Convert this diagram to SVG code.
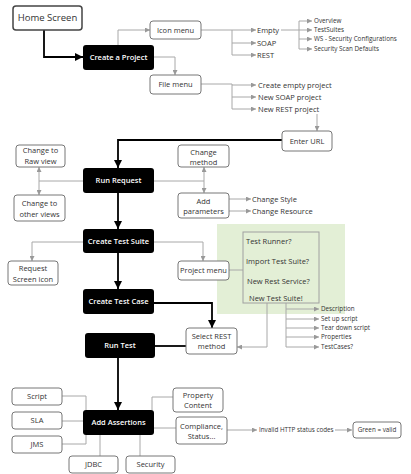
<svg xmlns="http://www.w3.org/2000/svg" width="411" height="474" viewBox="0 0 411 474">
<defs>
<marker id="ga" markerUnits="userSpaceOnUse" markerWidth="5" markerHeight="5" refX="5" refY="2.5" orient="auto-start-reverse"><path d="M0,0 L5,2.5 L0,5 z" fill="#999"/></marker>
<marker id="ba" markerUnits="userSpaceOnUse" markerWidth="8" markerHeight="8" refX="8" refY="4" orient="auto"><path d="M0,0 L8,4 L0,8 z" fill="#000"/></marker>
<style>
text{font-family:"Open Sans","DejaVu Sans",sans-serif;font-size:7.5px;fill:#333}
.c{text-anchor:middle}
.w{fill:#fff;font-weight:600}
.s{font-size:6.3px}
.box{fill:#fff;stroke:#777;stroke-width:1}
.blk{fill:#000;stroke:none}
.g{fill:none;stroke:#a8a8a8;stroke-width:1}
.b{fill:none;stroke:#000;stroke-width:1.8}
</style>
</defs>
<rect x="0" y="0" width="411" height="474" fill="#fff"/>
<rect id="green-area" x="217" y="224" width="128" height="90" fill="#e3efd6"/>

<g id="connectors">
<path class="b" d="M44,30 V57 H83" marker-end="url(#ba)"/>
<path class="b" d="M282,140 H118 V168" stroke="#222" marker-end="url(#ba)"/>
<path class="b" d="M118,193 V229" marker-end="url(#ba)"/>
<path class="b" d="M118,253 V289" marker-end="url(#ba)"/>
<path class="b" d="M154,303 H212 V328" marker-end="url(#ba)"/>
<path class="b" d="M186,346 H155" stroke-width="1.3"/>
<path class="b" d="M118,358 V410" marker-end="url(#ba)"/>

<path class="g" d="M118,45 V30 H150" marker-end="url(#ga)"/>
<path class="g" d="M154,57 H175 V75" marker-end="url(#ga)"/>
<path class="g" d="M201,30 H232 V55"/>
<path class="g" d="M232,30 H256" marker-end="url(#ga)"/>
<path class="g" d="M232,43 H256" marker-end="url(#ga)"/>
<path class="g" d="M232,55 H256" marker-end="url(#ga)"/>
<path class="g" d="M281,30 H299"/>
<path class="g" d="M299,21 V49"/>
<path class="g" d="M299,21 H312" marker-end="url(#ga)"/>
<path class="g" d="M299,30 H312" marker-end="url(#ga)"/>
<path class="g" d="M299,39 H312" marker-end="url(#ga)"/>
<path class="g" d="M299,49 H312" marker-end="url(#ga)"/>
<path class="g" d="M201,84 H232 V109"/>
<path class="g" d="M232,85 H256" marker-end="url(#ga)"/>
<path class="g" d="M232,97 H256" marker-end="url(#ga)"/>
<path class="g" d="M232,109 H256" marker-end="url(#ga)"/>
<path class="g" d="M317,114 V131" marker-end="url(#ga)"/>
<path class="g" d="M83,181 H39"/>
<path class="g" d="M39,167 V195" marker-start="url(#ga)" marker-end="url(#ga)"/>
<path class="g" d="M154,181 H204"/>
<path class="g" d="M204,167 V193" marker-start="url(#ga)" marker-end="url(#ga)"/>
<path class="g" d="M229,199 H251" marker-end="url(#ga)"/>
<path class="g" d="M229,211 H251" marker-end="url(#ga)"/>
<path class="g" d="M83,242 H32 V261" marker-end="url(#ga)"/>
<path class="g" d="M154,242 H203 V261" marker-end="url(#ga)"/>
<path class="g" d="M229,270 H243"/>
<path class="g" d="M267,303 V347 H237" marker-end="url(#ga)"/>
<path class="g" d="M286,303 V347"/>
<path class="g" d="M286,309 H319" marker-end="url(#ga)"/>
<path class="g" d="M286,319 H319" marker-end="url(#ga)"/>
<path class="g" d="M286,328 H319" marker-end="url(#ga)"/>
<path class="g" d="M286,337 H319" marker-end="url(#ga)"/>
<path class="g" d="M286,347 H319" marker-end="url(#ga)"/>
<path class="g" d="M62,396 H86 V410"/>
<path class="g" d="M62,421 H83"/>
<path class="g" d="M62,444 H86 V435"/>
<path class="g" d="M100,435 V456"/>
<path class="g" d="M140,435 V456"/>
<path class="g" d="M152,410 V397 H173"/>
<path class="g" d="M154,428 H176"/>
<path class="g" d="M227,430 H257" marker-end="url(#ga)"/>
<path class="g" d="M335,430 H352" marker-end="url(#ga)"/>
</g>

<g id="home-screen"><rect x="13" y="6" width="69" height="24" rx="3" fill="#fff" stroke="#444" stroke-width="1.5"/><text class="c" x="47.5" y="21.3" style="font-size:9.5px">Home Screen</text></g>
<g id="create-project"><rect class="blk" x="83" y="45" width="71" height="25" rx="3"/><text class="c w" x="118.5" y="60.2">Create a Project</text></g>
<g id="icon-menu"><rect class="box" x="150" y="21" width="51" height="18" rx="3"/><text class="c" x="175.5" y="32.6">Icon menu</text></g>
<g id="file-menu"><rect class="box" x="150" y="75" width="51" height="19" rx="3"/><text class="c" x="175.5" y="87.1">File menu</text></g>
<g id="icon-items"><text x="257" y="32.6">Empty</text><text x="257" y="45.6">SOAP</text><text x="257" y="57.6">REST</text></g>
<g id="empty-items"><text class="s" x="314" y="23.2">Overview</text><text class="s" x="314" y="32.2">TestSuites</text><text class="s" x="314" y="41.2">WS - Security Configurations</text><text class="s" x="314" y="51.2">Security Scan Defaults</text></g>
<g id="file-items"><text x="258" y="87.6">Create empty project</text><text x="258" y="99.6">New SOAP project</text><text x="258" y="111.6">New REST project</text></g>
<g id="enter-url"><rect class="box" x="282" y="131" width="50" height="20" rx="3"/><text class="c" x="307" y="143.6">Enter URL</text></g>
<g id="run-request"><rect class="blk" x="83" y="168" width="71" height="25" rx="3"/><text class="c w" x="118.5" y="183.2">Run Request</text></g>
<g id="raw-view"><rect class="box" x="16" y="145" width="49" height="22" rx="3"/><text class="c" x="40.5" y="153.3">Change to</text><text class="c" x="40.5" y="164.3">Raw view</text></g>
<g id="other-views"><rect class="box" x="14" y="195" width="51" height="26" rx="3"/><text class="c" x="39.5" y="205.6">Change to</text><text class="c" x="39.5" y="216.6">other views</text></g>
<g id="change-method"><rect class="box" x="178" y="145" width="51" height="22" rx="3"/><text class="c" x="203.5" y="154.6">Change</text><text class="c" x="203.5" y="164.6">method</text></g>
<g id="add-parameters"><rect class="box" x="178" y="193" width="51" height="25" rx="3"/><text class="c" x="203.5" y="204.3">Add</text><text class="c" x="203.5" y="214.3">parameters</text></g>
<g id="param-items"><text x="252" y="201.6">Change Style</text><text x="252" y="213.6">Change Resource</text></g>
<g id="create-test-suite"><rect class="blk" x="83" y="229" width="71" height="24" rx="3"/><text class="c w" x="118.5" y="243.6">Create Test Suite</text></g>
<g id="request-screen-icon"><rect class="box" x="8" y="261" width="50" height="24" rx="3"/><text class="c" x="33" y="270.6">Request</text><text class="c" x="33" y="281.6">Screen icon</text></g>
<g id="project-menu"><rect class="box" x="178" y="261" width="51" height="19" rx="3"/><text class="c" x="203.5" y="273.1">Project menu</text></g>
<g id="project-menu-options"><rect x="243" y="232" width="76" height="71" fill="#e3efd6" stroke="#a0a0a0" stroke-width="1"/><text x="246" y="243.6">Test Runner?</text><text x="246" y="263.6">Import Test Suite?</text><text x="247" y="283.6">New Rest Service?</text><text x="249" y="300.6">New Test Suite!</text></g>
<g id="test-suite-items"><text class="s" x="321" y="311.2">Description</text><text class="s" x="321" y="321.2">Set up script</text><text class="s" x="321" y="330.2">Tear down script</text><text class="s" x="321" y="339.2">Properties</text><text class="s" x="321" y="349.2">TestCases?</text></g>
<g id="create-test-case"><rect class="blk" x="83" y="289" width="71" height="25" rx="3"/><text class="c w" x="118.5" y="304.2">Create Test Case</text></g>
<g id="select-rest-method"><rect class="box" x="186" y="328" width="51" height="26" rx="3"/><text class="c" x="211.5" y="339.3">Select REST</text><text class="c" x="211.5" y="349.3">method</text></g>
<g id="run-test"><rect class="blk" x="85" y="333" width="70" height="25" rx="3"/><text class="c w" x="120" y="348.2">Run Test</text></g>
<g id="add-assertions"><rect class="blk" x="83" y="410" width="71" height="25" rx="3"/><text class="c w" x="118.5" y="425.2">Add Assertions</text></g>
<g id="script"><rect class="box" x="12" y="388" width="50" height="17" rx="3"/><text class="c" x="37" y="399.1">Script</text></g>
<g id="sla"><rect class="box" x="12" y="412" width="50" height="17" rx="3"/><text class="c" x="37" y="423.1">SLA</text></g>
<g id="jms"><rect class="box" x="12" y="436" width="50" height="17" rx="3"/><text class="c" x="37" y="447.1">JMS</text></g>
<g id="jdbc"><rect class="box" x="69" y="456" width="49" height="17" rx="3"/><text class="c" x="93.5" y="467.1">JDBC</text></g>
<g id="security"><rect class="box" x="126" y="456" width="49" height="17" rx="3"/><text class="c" x="150.5" y="467.1">Security</text></g>
<g id="property-content"><rect class="box" x="173" y="388" width="50" height="24" rx="3"/><text class="c" x="198" y="398.3">Property</text><text class="c" x="198" y="408.3">Content</text></g>
<g id="compliance-status"><rect class="box" x="176" y="417" width="51" height="27" rx="3"/><text class="c" x="201.5" y="428.6">Compliance,</text><text class="c" x="201.5" y="439.3">Status...</text></g>
<g id="invalid-http"><text class="s" x="259" y="432.2">Invalid HTTP status codes</text></g>
<g id="green-valid"><rect class="box" x="353" y="422" width="48" height="16" rx="3"/><text class="c" x="377" y="432.2" style="font-size:6.3px">Green = valid</text></g>
</svg>
